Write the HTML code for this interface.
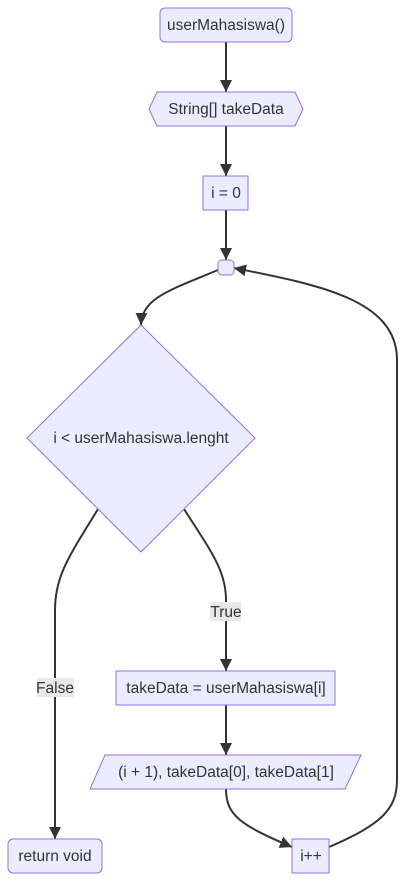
<!DOCTYPE html>
<html><head><style>
html,body{margin:0;padding:0;background:#fff;}
text{font-family:"Liberation Sans",sans-serif;font-size:15.5px;fill:#333;}
</style></head><body>
<svg width="404" height="882" viewBox="0 0 404 882" xmlns="http://www.w3.org/2000/svg">
<defs><marker id="a" viewBox="0 0 10 10" refX="10" refY="5" markerWidth="12" markerHeight="12" markerUnits="userSpaceOnUse" orient="auto"><path d="M0,0L10,5L0,10z" fill="#333"/></marker></defs>
<g fill="none" stroke="#333" stroke-width="2">
<path d="M226,42V92" marker-end="url(#a)"/>
<path d="M226,126V176" marker-end="url(#a)"/>
<path d="M226,210V260" marker-end="url(#a)"/>
<path d="M218,270C170,290 142,298 141,325" marker-end="url(#a)"/>
<path d="M98,509C70,555 55,575 55,610V839" marker-end="url(#a)"/>
<path d="M184,509C210,550 226,570 226,600V671" marker-end="url(#a)"/>
<path d="M226,705V755" marker-end="url(#a)"/>
<path d="M226,789C226,815 240,825 292,847" marker-end="url(#a)"/>
<path d="M329,847C380,825 397,810 397,780V360C397,300 320,285 234,268" marker-end="url(#a)"/>
</g>
<g fill="#ECECFF" stroke="#9370DB" stroke-width="1">
<rect x="160" y="8" width="132" height="34" rx="5"/>
<polygon points="157,92 295,92 303,109 295,126 157,126 149,109"/>
<rect x="203" y="176" width="45" height="34"/>
<rect x="218" y="260" width="16" height="15" rx="4"/>
<polygon points="141,325 255,438 141,552 27,438"/>
<rect x="116" y="671" width="219" height="34"/>
<polygon points="105,755 361,755 345,789 90,789"/>
<rect x="292" y="839" width="37" height="34"/>
<rect x="8" y="839" width="94" height="34" rx="5"/>
</g>
<rect x="210" y="602" width="31" height="19" fill="#e8e8e8"/>
<rect x="37" y="678" width="37" height="19" fill="#e8e8e8"/>
<g text-anchor="middle">
<text x="226" y="30">userMahasiswa()</text>
<text x="226" y="114">String[] takeData</text>
<text x="226" y="198">i = 0</text>
<text x="141" y="443">i &lt; userMahasiswa.lenght</text>
<text x="226" y="617">True</text>
<text x="55" y="693">False</text>
<text x="226" y="693">takeData = userMahasiswa[i]</text>
<text x="226" y="777">(i + 1), takeData[0], takeData[1]</text>
<text x="311" y="861">i++</text>
<text x="55" y="861">return void</text>
</g>
</svg>
</body></html>
